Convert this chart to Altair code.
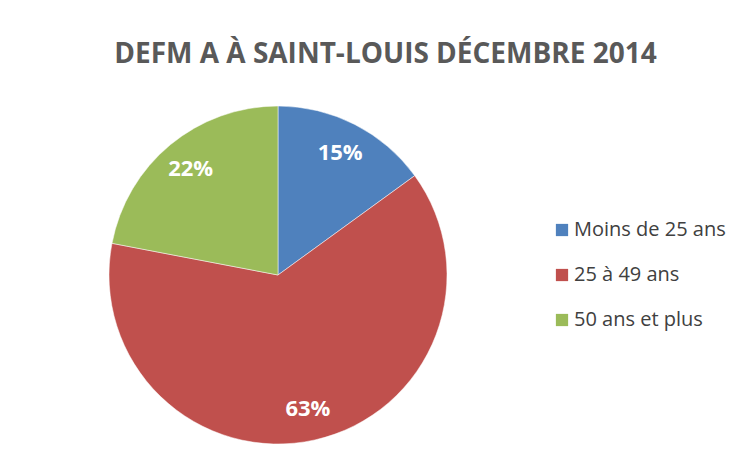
import altair as alt
import pandas as pd

categories = ["Moins de 25 ans", "25 à 49 ans", "50 ans et plus"]
values = [15, 63, 22]
labels = ["15%", "63%", "22%"]
colors = ["#4F81BD", "#C0504D", "#9BBB59"]

df = pd.DataFrame({"cat": categories, "val": values, "lab": labels,
                   "order": [0, 1, 2]})

color = alt.Color("cat:N", scale=alt.Scale(domain=categories, range=colors),
                  legend=alt.Legend(title=None, orient="none", legendX=552, legendY=220,
                                    symbolType="square", symbolSize=150,
                                    symbolStrokeWidth=0, labelFontSize=20,
                                    labelColor="#404040", labelFont="Open Sans",
                                    rowPadding=25, labelOffset=2))

base = alt.Chart(df).encode(
    theta=alt.Theta("val:Q", stack=True),
    order=alt.Order("order:Q"),
)

pie = base.mark_arc(outerRadius=169, stroke="#ffffff", strokeWidth=0.5).encode(
    color=color,
    x=alt.value(278), y=alt.value(275),
)

text = base.mark_text(radius=137, fontSize=22, fontWeight="bold", color="white",
                      font="Open Sans").encode(
    text="lab:N",
    x=alt.value(278), y=alt.value(275),
)

chart = alt.layer(pie, text).properties(
    width=751, height=466,
    autosize=alt.AutoSizeParams(type="none"),
    padding=0,
    title=alt.TitleParams("DEFM A À SAINT-LOUIS DÉCEMBRE 2014", fontSize=28,
                          font="Open Sans", fontWeight="bold", color="#595959",
                          anchor="middle", dy=73, dx=10),
).configure_view(stroke=None)

chart.save("out.html", embed_options={"renderer": "svg", "actions": False})
